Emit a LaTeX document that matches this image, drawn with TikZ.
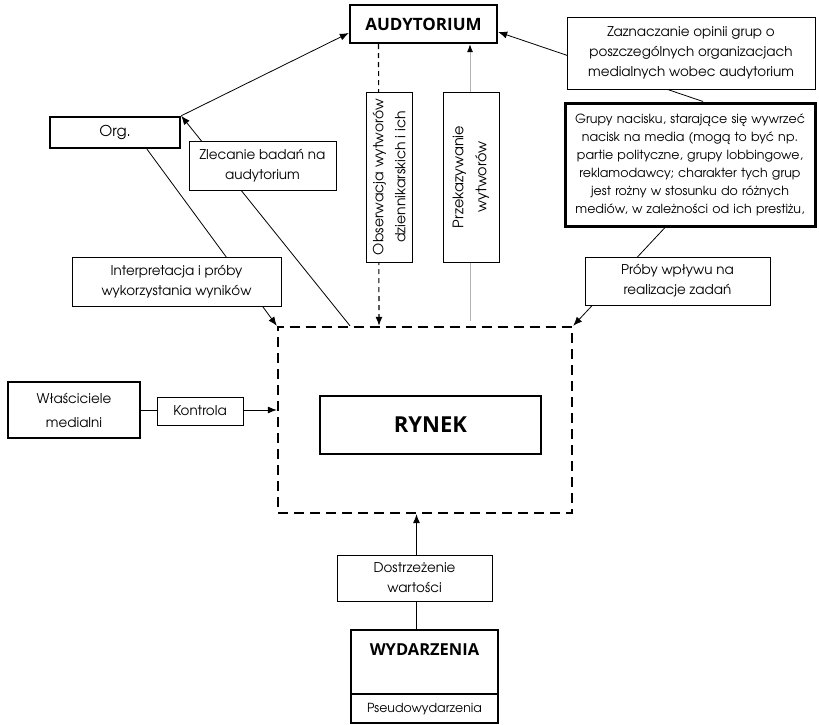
\documentclass[tikz,border=0pt]{standalone}
\usepackage{fontspec}
\setmainfont{texgyreadventor}[Extension=.otf, UprightFont=*-regular, BoldFont=*-bold]
\newfontfamily\headfont{Open Sans}
\usetikzlibrary{arrows.meta}
\tikzset{
  lbl/.style={draw, line width=0.8pt, fill=white, align=center, inner sep=1pt,
    font=\fontsize{13.5}{20}\selectfont},
  hbox/.style={draw, line width=2.4pt, fill=white, align=center, inner sep=1pt},
  conn/.style={line width=0.8pt, -{Latex[length=9pt,width=7pt]}},
  plain/.style={line width=0.8pt}
}
\begin{document}
\begin{tikzpicture}[x=1pt,y=-1pt]
\useasboundingbox (0,0) rectangle (819,725);
% main nodes
\node[hbox, minimum width=147pt, minimum height=38pt, font=\headfont\bfseries\fontsize{17}{20}\selectfont] (aud) at (423.5,24) {AUDYTORIUM};
\node[hbox, minimum width=130pt, minimum height=31pt, font=\fontsize{15}{20}\selectfont] (org) at (115,132.5) {Org.};
\node[hbox, line width=3pt, minimum width=250pt, minimum height=123pt, text width=248pt, font=\fontsize{12.6}{18}\selectfont] (grupy) at (690,164.5) {Grupy nacisku, starające się wywrzeć\\nacisk na media (mogą to być np.\\partie polityczne, grupy lobbingowe,\\reklamodawcy; charakter tych grup\\jest rożny w stosunku do różnych\\mediów, w zależności od ich prestiżu,};
\node[draw, line width=2.4pt, dash pattern=on 10pt off 6pt, minimum width=294pt, minimum height=186pt] (outer) at (425,420) {};
\node[draw, line width=2pt, minimum width=221pt, minimum height=58pt, font=\headfont\bfseries\fontsize{22}{24}\selectfont] (rynek) at (430.5,425) {RYNEK};
\node[hbox, minimum width=132pt, minimum height=56pt, font=\fontsize{13.5}{24}\selectfont] (wlasc) at (74,410) {Właściciele\\medialni};
\node[hbox, minimum width=147pt, minimum height=93pt] (wyd) at (424.5,676.5) {};
\node[font=\headfont\bfseries\fontsize{16.5}{20}\selectfont] (wydt) at (424.5,650) {WYDARZENIA};
\node[font=\fontsize{12.5}{14}\selectfont] (pseudo) at (424.5,709) {Pseudowydarzenia};
\draw[line width=1.5pt] ([yshift=30pt]wyd.south west) -- ([yshift=30pt]wyd.south east);
% connectors
\draw[conn] (org.north east) -- ([yshift=-9pt]aud.west);
\draw[conn] ([xshift=-75pt]outer.north) -- (org.north east);
\draw[conn] ([xshift=32pt]org.south) -- (outer.north west);
\draw[line width=1.1pt, dash pattern=on 5pt off 4pt, -{Latex[length=9pt,width=7pt]}] ([xshift=-45pt]aud.south) -- ([xshift=-46pt]outer.north);
\draw[line width=0.8pt, gray!60, -{Latex[length=8pt,width=6pt,black]}] ([xshift=45pt,yshift=5pt]outer.north) -- ([xshift=46.5pt]aud.south);
\draw[conn] ([xshift=13pt]grupy.north) -- ([yshift=-8pt]aud.east);
\draw[conn] ([xshift=-25pt]grupy.south) -- (outer.north east);
\draw[conn] (wlasc.east) -- (wlasc.east -| outer.west);
\draw[conn] ([xshift=-8pt]wyd.north) -- ([xshift=-8pt]wyd.north |- outer.south);
% labels on connectors
\node[lbl, minimum width=248pt, minimum height=72pt] (zazn) at (691,53) {Zaznaczanie opinii grup o\\poszczególnych organizacjach\\medialnych wobec audytorium};
\node[lbl, minimum width=147pt, minimum height=49pt] (zlec) at (262.5,165.5) {Zlecanie badań na\\audytorium};
\node[lbl, rotate=90, minimum width=170pt, minimum height=46pt, font=\fontsize{14}{22}\selectfont] (obs) at (389,177) {Obserwacja wytworów\\dziennikarskich i ich};
\node[lbl, rotate=90, minimum width=170pt, minimum height=56pt, font=\fontsize{14.5}{23}\selectfont] (przek) at (471,177) {Przekazywanie\\wytworów};
\node[lbl, minimum width=209pt, minimum height=49pt] (interp) at (176.5,281.5) {Interpretacja i próby\\wykorzystania wyników};
\node[lbl, minimum width=185pt, minimum height=48pt] (proby) at (677.5,281) {Próby wpływu na\\realizacje zadań};
\node[lbl, minimum width=86pt, minimum height=28pt] (kontr) at (200,411) {Kontrola};
\node[lbl, minimum width=155pt, minimum height=46pt] (dostrz) at (414.5,578) {Dostrzeżenie\\wartości};
\end{tikzpicture}
\end{document}
